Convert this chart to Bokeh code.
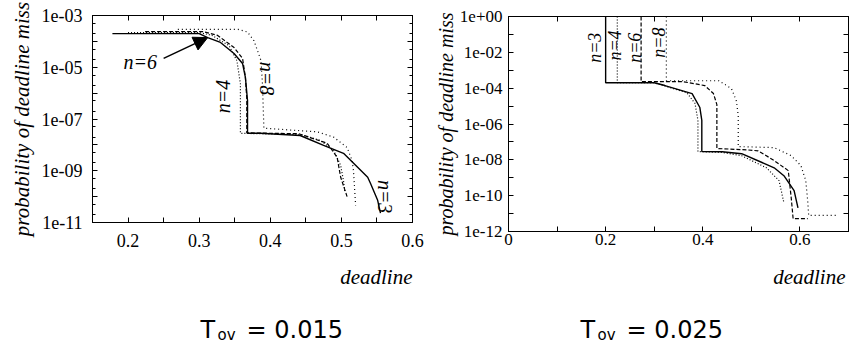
import math
from bokeh.plotting import figure
from bokeh.layouts import row, column
from bokeh.models import (Range1d, FixedTicker, CustomJSTickFormatter, LinearAxis,
                          LogAxis, Title, Arrow, NormalHead)
from bokeh.core.properties import value
from bokeh.embed import file_html
from bokeh.resources import INLINE

# ---------------- data : T_ov = 0.015 (left panel) ----------------
L3_x = [0.178, 0.300, 0.312, 0.330, 0.349, 0.361, 0.365, 0.368, 0.368, 0.386, 0.442, 0.475, 0.503, 0.537, 0.541, 0.551, 0.555]
L3_y = [2.0e-4, 2.0e-4, 1.4e-4, 9.1e-5, 3.4e-5, 1.4e-5, 4.1e-6, 5.2e-7, 2.8e-8, 2.8e-8, 2.3e-8, 9.5e-9, 4.7e-9, 5.6e-10, 3.2e-10, 7.2e-11, 2.3e-11]
L4_x = [0.200, 0.300, 0.318, 0.342, 0.353, 0.358, 0.358, 0.443, 0.470, 0.489, 0.499, 0.503, 0.505]
L4_y = [2.2e-4, 2.2e-4, 1.7e-4, 6.9e-5, 1.8e-5, 2.3e-6, 2.8e-8, 2.5e-8, 1.5e-8, 6.3e-9, 1.6e-9, 4.0e-10, 1.4e-10]
L6_x = [0.224, 0.305, 0.326, 0.349, 0.361, 0.365, 0.367, 0.367, 0.440, 0.480, 0.494, 0.499, 0.508]
L6_y = [2.4e-4, 2.4e-4, 1.7e-4, 5.8e-5, 2.2e-5, 4.1e-6, 6.0e-7, 2.9e-8, 2.7e-8, 1.15e-8, 3.3e-9, 5.6e-10, 1.0e-10]
L8_x = [0.270, 0.355, 0.368, 0.377, 0.387, 0.389, 0.391, 0.466, 0.489, 0.508, 0.515, 0.517, 0.520]
L8_y = [2.9e-4, 2.9e-4, 2.3e-4, 1.07e-4, 1.8e-5, 2.3e-6, 4.4e-8, 3.2e-8, 2.0e-8, 7.9e-9, 2.5e-9, 1.0e-9, 4.6e-11]

# ---------------- data : T_ov = 0.025 (right panel) ----------------
R3_x = [0.200, 0.200, 0.300, 0.322, 0.378, 0.394, 0.398, 0.398, 0.440, 0.480, 0.547, 0.567, 0.588, 0.596]
R3_y = [1.0, 2.0e-4, 2.0e-4, 1.4e-4, 5.0e-5, 8.3e-6, 1.6e-6, 2.9e-8, 2.8e-8, 2.2e-8, 3.6e-9, 1.3e-9, 1.9e-10, 2.1e-11]
R4_x = [0.224, 0.224, 0.300, 0.367, 0.384, 0.390, 0.390, 0.440, 0.480, 0.531, 0.557, 0.567]
R4_y = [1.0, 2.0e-4, 2.0e-4, 5.6e-5, 1.4e-5, 1.6e-6, 2.9e-8, 2.6e-8, 1.7e-8, 3.6e-9, 6.9e-10, 4.0e-11]
R6_x = [0.273, 0.273, 0.360, 0.404, 0.422, 0.429, 0.429, 0.490, 0.514, 0.547, 0.576, 0.582, 0.586, 0.616]
R6_y = [1.0, 2.3e-4, 2.3e-4, 1.4e-4, 5.0e-5, 1.2e-5, 4.3e-8, 3.6e-8, 3.2e-8, 9.1e-9, 2.5e-9, 7.9e-11, 5.2e-12, 5.2e-12]
R8_x = [0.325, 0.325, 0.433, 0.459, 0.469, 0.473, 0.473, 0.547, 0.582, 0.602, 0.612, 0.616, 0.618, 0.678]
R8_y = [1.0, 2.6e-4, 2.6e-4, 9.5e-5, 2.0e-5, 3.0e-6, 5.5e-8, 4.8e-8, 1.7e-8, 4.8e-9, 6.9e-10, 5.2e-11, 7.9e-12, 7.9e-12]

series_names = ["n=3", "n=4", "n=6", "n=8"]
series_dash = ["solid", "1 2", "4 2", "1 3"]

# curve labels (text, x, y, rotation)
L_lab_text = ["n=6", "n=4", "n=8", "n=3"]
L_lab_x = [0.217, 0.333, 0.396, 0.562]
L_lab_y = [1.55e-5, 7.4e-7, 3.7e-6, 1.0e-10]
L_lab_ang = [0.0, math.pi / 2, -math.pi / 2, -math.pi / 2]
R_lab_text = ["n=3", "n=4", "n=6", "n=8"]
R_lab_x = [0.178, 0.219, 0.260, 0.310]
R_lab_y = [1.8e-2, 2.4e-2, 1.8e-2, 3.5e-2]
R_lab_ang = [math.pi / 2] * 4

# arrow pointing at the n=6 curve (left panel)
arrow_start = (0.250, 2.2e-5)
arrow_end = (0.312, 1.4e-4)

# axes
L_xticks = [0.2, 0.3, 0.4, 0.5, 0.6]
L_xminor = [0.15, 0.25, 0.35, 0.45, 0.55]
L_yticks = [1e-3, 1e-4, 1e-5, 1e-6, 1e-7, 1e-8, 1e-9, 1e-10, 1e-11]
R_xticks = [0.0, 0.2, 0.4, 0.6]
R_xminor = [0.1, 0.3, 0.5, 0.7]
R_yticks = [1e0, 1e-1, 1e-2, 1e-3, 1e-4, 1e-5, 1e-6, 1e-7, 1e-8, 1e-9, 1e-10, 1e-11, 1e-12]
x_label = "deadline"
y_label = "probability of deadline miss"
captions = ["= 0.015", "= 0.025"]

SERIF = "Times New Roman"

FMT = """
const e = Math.round(Math.log10(tick));
if (((first - e) % step) != 0) return "";
const a = Math.abs(e);
return "1e" + (e < 0 ? "-" : "+") + (a < 10 ? "0" + a : "" + a);
"""


def style_axis(ax, fs, standoff, minor_len=5):
    ax.major_tick_in = 5
    ax.major_tick_out = 0
    ax.minor_tick_in = minor_len
    ax.minor_tick_out = 0
    ax.axis_line_color = "black"
    ax.major_tick_line_color = "black"
    ax.minor_tick_line_color = "black"
    ax.major_label_text_font = SERIF
    ax.major_label_text_font_size = fs
    ax.major_label_text_color = "black"
    ax.major_label_standoff = standoff


def hidden_axis(cls, ticker, minor_len=5):
    ax = cls(ticker=ticker)
    style_axis(ax, "0px", 0, minor_len)
    ax.major_label_text_alpha = 0
    return ax


def panel(width, height, xr, yr, borders, xt, xm, yt, ym, fmt_first, fmt_step,
          fs, xstand, ystand, ylab_minor, ylab_fs, ylab_offset, ylab_standoff):
    bl, br, bt, bb = borders
    p = figure(width=width, height=height, x_range=Range1d(*xr), y_range=Range1d(*yr),
               y_axis_type="log", output_backend="svg", toolbar_location=None,
               min_border_left=bl, min_border_right=br, min_border_top=bt,
               min_border_bottom=bb)
    if "frame_align" in p.properties():
        p.frame_align = False
    p.xgrid.visible = False
    p.ygrid.visible = False
    p.outline_line_color = "black"
    p.outline_line_width = 1
    p.background_fill_color = "white"
    p.border_fill_color = "white"
    xtick = FixedTicker(ticks=xt, minor_ticks=xm)
    ytick = FixedTicker(ticks=yt, minor_ticks=ym)
    p.xaxis[0].ticker = xtick
    p.yaxis[0].ticker = ytick
    p.yaxis[0].formatter = CustomJSTickFormatter(args=dict(first=fmt_first, step=fmt_step), code=FMT)
    style_axis(p.xaxis[0], fs, xstand)
    style_axis(p.yaxis[0], fs, ystand, ylab_minor)
    p.add_layout(hidden_axis(LinearAxis, xtick), "above")
    p.add_layout(hidden_axis(LogAxis, ytick, ylab_minor), "right")
    p.add_layout(Title(text=y_label, align="center", offset=ylab_offset, standoff=ylab_standoff,
                       text_font=SERIF, text_font_style="italic",
                       text_font_size=ylab_fs, text_color="black"), "left")
    return p


# ---- left panel ----
L_ym = [m * 10.0 ** k for k in range(-11, -3) for m in (2, 5)]
p1 = panel(432, 260, (0.15, 0.6), (1e-11, 1e-3), (92, 20, 15, 38),
           L_xticks, L_xminor, L_yticks, L_ym, -3, 2, "18px", 11, 10, 3, "21px", -8, 9)
for xs, ys, d in zip([L3_x, L4_x, L6_x, L8_x], [L3_y, L4_y, L6_y, L8_y], series_dash):
    p1.line(xs, ys, line_color="black", line_width=1.4 if d == "solid" else 1.2, line_dash=d)
p1.text(x=L_lab_x, y=L_lab_y, text=L_lab_text, angle=L_lab_ang,
        text_font=value(SERIF), text_font_style="italic",
        text_font_size="20px", text_align="center", text_baseline="middle", text_color="black")
p1.add_layout(Arrow(end=NormalHead(size=14, fill_color="black", line_color="black"),
                    x_start=arrow_start[0], y_start=arrow_start[1],
                    x_end=arrow_end[0], y_end=arrow_end[1],
                    line_color="black", line_width=1.5))

# ---- right panel ----
p2 = panel(419, 260, (0.0, 0.7), (1e-12, 1e0), (73, 3, 16, 29),
           R_xticks, R_xminor, R_yticks, [], 0, 2, "17px", 2, 6, 5, "20px", -10, 0)
for xs, ys, d in zip([R3_x, R4_x, R6_x, R8_x], [R3_y, R4_y, R6_y, R8_y], series_dash):
    p2.line(xs, ys, line_color="black", line_width=1.4 if d == "solid" else 1.2, line_dash=d)
p2.text(x=R_lab_x, y=R_lab_y, text=R_lab_text, angle=R_lab_ang,
        text_font=value(SERIF), text_font_style="italic",
        text_font_size="18px", text_align="center", text_baseline="middle", text_color="black")

# ---- caption strip (pixel coordinates) ----
p3 = figure(width=851, height=88, x_range=Range1d(0, 851), y_range=Range1d(0, 88),
            output_backend="svg", toolbar_location=None,
            x_axis_location=None, y_axis_location=None, min_border=0)
p3.xgrid.visible = False
p3.ygrid.visible = False
p3.outline_line_color = None
p3.background_fill_color = "white"
p3.border_fill_color = "white"
# axis titles "deadline"
p3.text(x=[412, 845], y=[72, 72], text=[x_label, x_label],
        text_font=value(SERIF), text_font_style="italic",
        text_font_size="21px", text_align="right", text_baseline="middle", text_color="black")
# captions T_ov = ...
cap_x = [200, 580]
p3.text(x=cap_x, y=[19, 19], text=["T", "T"], text_font=value("DejaVu Sans"),
        text_font_size="24px", text_align="left", text_baseline="alphabetic", text_color="black")
p3.text(x=[c + 17 for c in cap_x], y=[14, 14], text=["ov", "ov"], text_font=value("DejaVu Sans"),
        text_font_size="15px", text_align="left", text_baseline="alphabetic", text_color="black")
p3.text(x=[c + 46 for c in cap_x], y=[19, 19], text=captions, text_font=value("DejaVu Sans"),
        text_font_size="24px", text_align="left", text_baseline="alphabetic", text_color="black")

layout = column(row(p1, p2), p3)
open("out.html", "w").write(file_html(layout, INLINE))
